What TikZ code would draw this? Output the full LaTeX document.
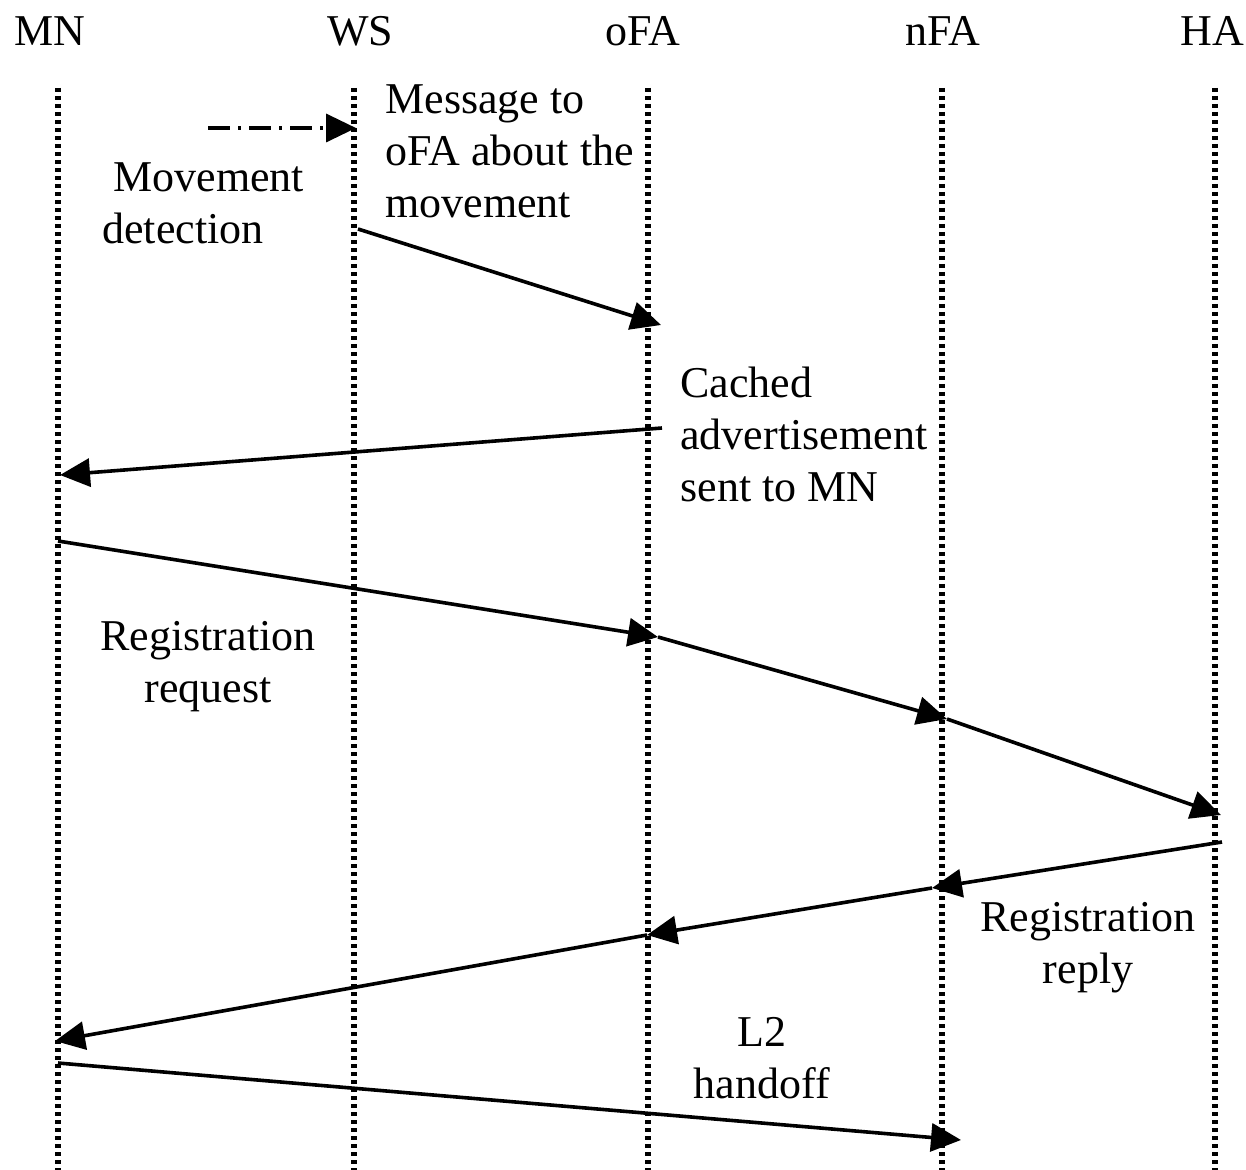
\documentclass[tikz,border=0pt]{standalone}
\usepackage{fontspec}
\setmainfont{Liberation Serif}
\usetikzlibrary{arrows.meta}
\begin{document}
\begin{tikzpicture}[x=0.5pt,y=-0.5pt,
  lifeline/.style={line width=2.8pt,dash pattern=on 2.2pt off 1.8pt},
  msg/.style={line width=1.8pt,-{Triangle[length=15pt,width=14pt]}},
  head/.style={inner sep=0pt,font=\fontsize{22}{26}\selectfont},
  note/.style={inner sep=0pt,font=\fontsize{22}{26}\selectfont}]
\useasboundingbox (0,0) rectangle (1246,1170);

% entity names
\node[head] (MN)  at (50,31)   {MN};
\node[head] (WS)  at (360,31)  {WS};
\node[head] (oFA) at (643,31)  {oFA};
\node[head] (nFA) at (943,31)  {nFA};
\node[head] (HA)  at (1212,31) {HA};

% lifelines
\foreach \n/\x in {mn/58,ws/354,ofa/648,nfa/942,ha/1215}{
  \coordinate (\n-top) at (\x,88);
  \coordinate (\n-bot) at (\x,1170);
  \draw[lifeline] (\n-top) -- (\n-bot);
}

% message end points
\coordinate (md-s) at (208,128);
\coordinate (md-e) at (356,128);
\coordinate (m1-s) at (358,229);
\coordinate (m1-e) at (661,325);
\coordinate (m2-s) at (662,428);
\coordinate (m2-e) at (60,475);
\coordinate (rq-a) at (58,541);
\coordinate (rq-b) at (658,637);
\coordinate (rq-c) at (947,719);
\coordinate (rq-d) at (1221,815);
\coordinate (rp-a) at (1222,842);
\coordinate (rp-b) at (932,888);
\coordinate (rp-c) at (647,935);
\coordinate (rp-d) at (55,1041);
\coordinate (l2-s) at (58,1063);
\coordinate (l2-e) at (961,1140);

% movement detection (dash-dot)
\draw[msg,dash pattern=on 11pt off 4pt on 1.5pt off 4pt] (md-s) -- (md-e);
% message to oFA
\draw[msg] (m1-s) -- (m1-e);
% cached advertisement
\draw[msg] (m2-s) -- (m2-e);
% registration request
\draw[msg] (rq-a) -- (rq-b);
\draw[msg] (rq-b) -- (rq-c);
\draw[msg] (rq-c) -- (rq-d);
% registration reply
\draw[msg] (rp-a) -- (rp-b);
\draw[msg] (rp-b) -- (rp-c);
\draw[msg] (rp-c) -- (rp-d);
% L2 handoff
\draw[msg] (l2-s) -- (l2-e);

% labels
\node[note,align=left,anchor=north west] (lbl-md) at (102,162)
  {\hspace*{5.5pt}Movement\\detection};
\node[note,align=left,anchor=north west] (lbl-m1) at (385,84)
  {Message to\\oFA about the\\movement};
\node[note,align=left,anchor=north west] (lbl-m2) at (680,367)
  {Cached\\advertisement\\sent to MN};
\node[note,align=center] (lbl-rq) at (208,667)
  {Registration\\request};
\node[note,align=center] (lbl-rp) at (1088,948)
  {Registration\\reply};
\node[note,align=center] (lbl-l2) at (762,1058)
  {L2\\handoff};
\end{tikzpicture}
\end{document}
